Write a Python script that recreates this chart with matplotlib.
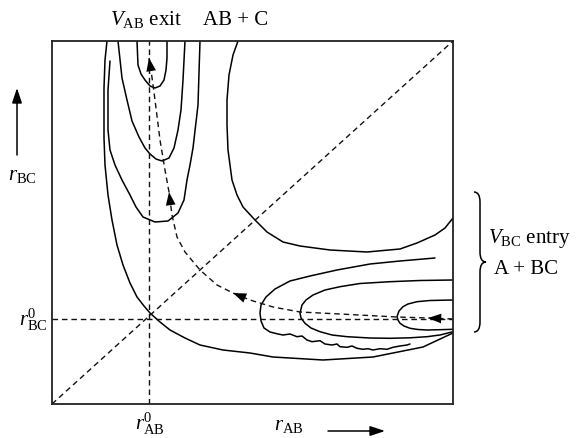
import matplotlib
matplotlib.use('Agg')
import matplotlib.pyplot as plt
from matplotlib.path import Path
from matplotlib.patches import PathPatch

plt.rcParams['font.family'] = ['Liberation Serif', 'DejaVu Serif']
plt.rcParams['mathtext.fontset'] = 'custom'
plt.rcParams['mathtext.rm'] = 'Liberation Serif'
plt.rcParams['mathtext.it'] = 'Liberation Serif:italic'

# box limits (r_AB across, r_BC downwards in the drawing units)
x_lo, x_hi = 52, 453
y_lo, y_hi = 404, 41
r_ab0 = 149
r_bc0 = 319

# contour lines
c1_x = [107, 105, 104, 104, 105, 108, 112, 117, 123, 130, 137, 144, 150, 160, 170, 185, 200, 223, 250, 273, 323, 373, 423, 453]
c1_y = [41, 60, 88, 138, 165, 195, 220, 245, 265, 283, 297, 306, 313, 322, 330, 338, 345, 350, 353, 357, 360, 357, 347, 333]

c2_x = [110, 108, 108, 110, 115, 122, 130, 136, 143, 155, 168, 178, 184, 187, 190, 193, 198, 200]
c2_y = [61, 90, 130, 150, 165, 180, 195, 207, 217, 222, 221, 213, 200, 180, 165, 148, 105, 41]

c3_x = [118, 122, 127, 132, 139, 145, 150, 156, 162, 169, 174, 178, 181, 183, 185]
c3_y = [41, 78, 100, 121, 137, 148, 154, 159, 161, 158, 148, 130, 110, 80, 41]

c4_x = [137, 138, 141, 145, 150, 155, 160, 164, 166, 167, 167]
c4_y = [41, 65, 74, 80, 86, 88, 86, 80, 70, 58, 41]

c5_x = [238, 233, 229, 227, 227, 228, 230, 232, 237, 243, 255, 267, 283, 300, 330, 367, 400, 417, 435, 445, 453]
c5_y = [41, 55, 75, 100, 125, 150, 165, 180, 195, 207, 220, 232, 242, 246, 250, 252, 249, 243, 235, 228, 218]

c6_x = [435, 400, 370, 337, 310, 290, 275, 266, 261, 260, 261, 264, 270, 278, 283, 290, 297, 302, 307, 312,
        320, 325, 332, 337, 340, 347, 352, 357, 363, 368, 373, 380, 387, 393, 400, 407, 410]
c6_y = [258, 261, 264, 270, 276, 281, 289, 297, 305, 313, 321, 328, 332, 334, 335, 334, 336.7, 336, 340, 341.7,
        340.7, 344, 345, 344, 346.7, 347.3, 346, 348.3, 349.3, 348.7, 350, 348.7, 349.3, 347.3, 346, 345, 344]

c7_x = [453, 420, 390, 360, 340, 325, 313, 306, 302, 300, 301, 305, 311, 320, 332, 347, 370, 390, 410, 427, 440, 453]
c7_y = [280, 280.5, 281.7, 283.5, 286.7, 290, 295, 300, 305, 313, 318, 323.3, 328, 331.7, 335, 336.7, 338, 338.3, 337.8, 336.7, 335, 331.7]

c8_x = [453, 430, 417, 408, 403, 399, 397, 398, 400, 404, 410, 418, 427, 440, 453]
c8_y = [300, 300.5, 301.7, 304, 306.7, 311, 316.7, 320, 323.3, 326, 328.3, 329.5, 330, 329.7, 329.3]

contours = [(c1_x, c1_y), (c2_x, c2_y), (c3_x, c3_y), (c4_x, c4_y),
            (c5_x, c5_y), (c6_x, c6_y), (c7_x, c7_y), (c8_x, c8_y)]

# reaction path (dashed), arrows drawn at some of its points
traj_x = [453, 428, 397, 340, 300, 273, 250, 233, 217, 200, 185, 177, 172, 169, 165, 160, 155, 151, 149]
traj_y = [319, 318, 317, 314, 312, 307, 300, 293, 285, 270, 252, 237, 215, 192, 170, 140, 100, 70, 58]
arrow_idx = [1, 7, 13, 18]

fig = plt.figure(figsize=(5.8, 4.38), dpi=100)
ax = fig.add_axes([x_lo / 580, 1 - y_lo / 438, (x_hi - x_lo) / 580, (y_lo - y_hi) / 438])
ax.set_xlim(x_lo, x_hi)
ax.set_ylim(y_lo, y_hi)
ax.set_xticks([])
ax.set_yticks([])
for s in ax.spines.values():
    s.set_linewidth(1.3)
    s.set_color('#222222')

for cx, cy in contours:
    ax.plot(cx, cy, color='black', lw=1.1, solid_joinstyle='round', solid_capstyle='round')

dash = (0, (4, 2.8))
ax.plot([r_ab0, r_ab0], [y_lo, y_hi], color='#111111', lw=1.0, linestyle=dash)
ax.plot([x_lo, x_hi], [r_bc0, r_bc0], color='#111111', lw=1.0, linestyle=dash)
ax.plot([x_lo, x_hi], [y_lo, y_hi], color='#111111', lw=1.0, linestyle=dash)
ax.plot(traj_x, traj_y, color='#111111', lw=1.0, linestyle=dash)

for i in arrow_idx:
    ax.annotate('', xy=(traj_x[i], traj_y[i]), xytext=(traj_x[i - 1], traj_y[i - 1]),
                arrowprops=dict(arrowstyle='-|>,head_length=0.95,head_width=0.35',
                                color='black', lw=0, shrinkA=0, shrinkB=0))

fs = 15
ax.text(110, 25, r'$V_{\mathrm{AB}}$ exit', fontsize=fs, va='baseline', clip_on=False)
ax.text(203, 25, 'AB + C', fontsize=fs, va='baseline', clip_on=False)
ax.text(8, 180, r'$r_{\mathrm{BC}}$', fontsize=fs, va='baseline', clip_on=False)
ax.text(48, 326, r'$r_{\mathrm{BC}}^{0}$', fontsize=fs, va='baseline', ha='right', clip_on=False)
ax.text(150, 430, r'$r_{\mathrm{AB}}^{0}$', fontsize=fs, va='baseline', ha='center', clip_on=False)
ax.text(274, 430, r'$r_{\mathrm{AB}}$', fontsize=fs, va='baseline', clip_on=False)
ax.text(488, 243, r'$V_{\mathrm{BC}}$ entry', fontsize=fs, va='baseline', clip_on=False)
ax.text(494, 274, 'A + BC', fontsize=fs, va='baseline', clip_on=False)

# axis direction arrows
ax.annotate('', xy=(17, 88), xytext=(17, 155), annotation_clip=False,
            arrowprops=dict(arrowstyle='-|>,head_length=0.9,head_width=0.3',
                            color='black', lw=1.1, shrinkA=0, shrinkB=0))
ax.annotate('', xy=(385, 431), xytext=(328, 431), annotation_clip=False,
            arrowprops=dict(arrowstyle='-|>,head_length=0.9,head_width=0.3',
                            color='black', lw=1.1, shrinkA=0, shrinkB=0))

# curly brace on the right
bx, btop, bbot, btip = 474, 192, 332, 262
verts = [(bx, btop),
         (bx + 6, btop), (bx + 6, btop + 10),
         (bx + 6, btip - 10),
         (bx + 6, btip), (bx + 12, btip),
         (bx + 6, btip), (bx + 6, btip + 10),
         (bx + 6, bbot - 10),
         (bx + 6, bbot), (bx, bbot)]
codes = [Path.MOVETO,
         Path.CURVE3, Path.CURVE3,
         Path.LINETO,
         Path.CURVE3, Path.CURVE3,
         Path.CURVE3, Path.CURVE3,
         Path.LINETO,
         Path.CURVE3, Path.CURVE3]
ax.add_patch(PathPatch(Path(verts, codes), fill=False, lw=1.1, color='black', clip_on=False))

fig.savefig('out.png', dpi=100)
